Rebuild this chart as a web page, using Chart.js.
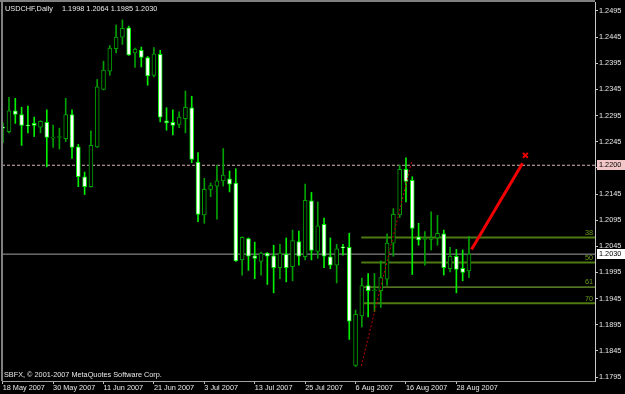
<!DOCTYPE html>
<html lang="en">
<head>
<meta charset="UTF-8">
<title>USDCHF,Daily</title>
<script src="https://cdn.jsdelivr.net/npm/chart.js@4.4.0/dist/chart.umd.min.js"></script>
<style>
    html, body { margin: 0; padding: 0; background: #000; }
    #chart { display: block; }
</style>
</head>
<body>
<canvas id="chart" width="625" height="394"></canvas>
<script>
// daily bars, index 0 = 18 May 2007
const opens  = [1.2273,1.2264,1.2304,1.2297,1.2277,1.2280,1.2273,1.2282,1.2252,1.2253,
                1.2251,1.2297,1.2235,1.2178,1.2159,1.2235,1.2345,1.2380,1.2423,1.2445,
                1.2463,1.2415,1.2420,1.2406,1.2372,1.2412,1.2285,1.2282,1.2278,1.2289,
                1.2310,1.2206,1.2105,1.2154,1.2160,1.2170,1.2174,1.2166,1.2019,1.2060,
                1.2027,1.2016,1.2032,1.2027,1.2004,1.2030,1.2006,1.2054,1.2025,1.2132,
                1.2035,1.2087,1.2025,1.2009,1.2043,1.2043,1.1817,1.1912,1.1970,1.1960,
                1.1960,1.1982,1.2051,1.2105,1.2192,1.2171,1.2063,1.2058,1.2058,1.2061,
                1.2069,1.2002,1.2026,1.2003,1.1998];
const highs  = [1.2281,1.2330,1.2328,1.2311,1.2313,1.2292,1.2285,1.2306,1.2277,1.2271,
                1.2328,1.2306,1.2240,1.2187,1.2266,1.2364,1.2399,1.2429,1.2468,1.2478,
                1.2466,1.2424,1.2426,1.2408,1.2425,1.2420,1.2310,1.2306,1.2302,1.2342,
                1.2332,1.2224,1.2175,1.2166,1.2200,1.2232,1.2189,1.2193,1.2063,1.2061,
                1.2053,1.2034,1.2033,1.2047,1.2049,1.2061,1.2076,1.2074,1.2164,1.2148,
                1.2130,1.2099,1.2061,1.2049,1.2049,1.2070,1.1923,1.1984,1.1993,1.1993,
                1.2017,1.2069,1.2117,1.2200,1.2214,1.2178,1.2089,1.2073,1.2111,1.2104,
                1.2076,1.2043,1.2039,1.2038,1.2064];
const lows   = [1.2243,1.2262,1.2280,1.2238,1.2262,1.2255,1.2262,1.2197,1.2234,1.2231,
                1.2245,1.2213,1.2159,1.2144,1.2158,1.2234,1.2344,1.2372,1.2415,1.2431,
                1.2410,1.2387,1.2388,1.2353,1.2369,1.2283,1.2267,1.2258,1.2272,1.2262,
                1.2205,1.2092,1.2089,1.2140,1.2097,1.2160,1.2149,1.2016,1.1990,1.1999,
                1.1983,1.1990,1.1972,1.1956,1.1983,1.1977,1.1979,1.2009,1.2019,1.2019,
                1.2022,1.2004,1.2002,1.1975,1.2028,1.1867,1.1815,1.1891,1.1910,1.1920,
                1.1928,1.1970,1.2026,1.2100,1.2130,1.1991,1.2047,1.2009,1.2038,1.2047,
                1.1990,1.1996,1.1956,1.1979,1.1985];
const closes = [1.2271,1.2304,1.2297,1.2276,1.2275,1.2276,1.2284,1.2253,1.2253,1.2254,
                1.2297,1.2234,1.2178,1.2159,1.2238,1.2350,1.2382,1.2424,1.2445,1.2462,
                1.2411,1.2422,1.2406,1.2371,1.2413,1.2292,1.2281,1.2276,1.2292,1.2311,
                1.2211,1.2106,1.2154,1.2161,1.2170,1.2181,1.2164,1.2017,1.2062,1.2026,
                1.2022,1.2032,1.2026,1.2004,1.2032,1.2004,1.2056,1.2026,1.2133,1.2037,
                1.2084,1.2026,1.2009,1.2040,1.2042,1.1902,1.1915,1.1970,1.1960,1.1961,
                1.1985,1.2051,1.2106,1.2192,1.2169,1.2079,1.2057,1.2059,1.2061,1.2070,
                1.2004,1.2026,1.2001,1.1995,1.2030];

const dateTicks  = [0, 8, 16, 24, 32, 40, 48, 56, 64, 72];
const dateLabels = ['18 May 2007', '30 May 2007', '11 Jun 2007', '21 Jun 2007', '3 Jul 2007',
                    '13 Jul 2007', '25 Jul 2007', '6 Aug 2007', '16 Aug 2007', '28 Aug 2007'];
const priceTicks = [1.1795, 1.1845, 1.1895, 1.1945, 1.1995, 1.2045, 1.2095, 1.2145,
                    1.2195, 1.2245, 1.2295, 1.2345, 1.2395, 1.2445, 1.2495];

// objects drawn on the chart
const fibLevels = [1.2062, 1.2014, 1.1967, 1.1936];
const fibNames  = ['38', '50', '61', '70'];
const fibStart  = 56.9;
const targetLevel = 1.2200;
const bidLevel    = 1.2030;
const dottedTrend = [{x: 56.9, y: 1.1816}, {x: 64.9, y: 1.2207}];
const redArrow    = [{x: 74.4, y: 1.2039}, {x: 82.5, y: 1.2204}];
const redMark     = [{x: 82.95, y: 1.2219}];

const symbolName = 'USDCHF,Daily';
const copyright  = 'SBFX, \u00a9 2001-2007 MetaQuotes Software Corp.';

const xMin = -0.11, xMax = 94.0;
const yMin = 1.17874, yMax = 1.25122;

const FONT = '"Liberation Sans", Arial, sans-serif';
const bullEdge = '#00a000';
const bearEdge = '#00f000';

const last = opens.length - 1;
const bull = i => closes[i] >= opens[i];

function hline(level, x0, color, width, dash) {
    return {
        type: 'line',
        data: [{x: x0, y: level}, {x: xMax, y: level}],
        borderColor: color, borderWidth: width, borderDash: dash || [],
        pointRadius: 0, order: 5
    };
}

const datasets = [
    {   // candle bodies
        type: 'bar',
        data: opens.map((o, i) => ({x: i, y: [o, closes[i]]})),
        backgroundColor: opens.map((o, i) => bull(i) ? '#000000' : '#ffffff'),
        borderColor: opens.map((o, i) => bull(i) ? bullEdge : bearEdge),
        borderWidth: 1, borderSkipped: false, barThickness: 4, minBarLength: 1,
        grouped: false, order: 1
    },
    {   // wicks
        type: 'bar',
        data: opens.map((o, i) => ({x: i, y: [lows[i], highs[i]]})),
        backgroundColor: opens.map((o, i) => bull(i) ? bullEdge : bearEdge),
        borderWidth: 0, barThickness: 1, grouped: false, order: 2
    },
    hline(targetLevel, xMin, '#d8b4b4', 1, [3, 2]),
    hline(bidLevel, xMin, '#a0a0a0', 1),
    ...fibLevels.map((lv, k) => k === 2
        ? hline(lv, fibStart, '#8cc63c', 1)
        : hline(lv, fibStart, '#4f7a12', 2)),
    {
        type: 'line', data: dottedTrend, borderColor: '#c00000', borderWidth: 1,
        borderDash: [2, 2], pointRadius: 0, order: 0
    },
    {
        type: 'line', data: redArrow, borderColor: '#f00000', borderWidth: 3,
        pointRadius: 0, order: 0
    },
    {
        type: 'line', data: redMark, showLine: false, pointStyle: 'crossRot',
        pointRadius: 3.5, borderWidth: 2, borderColor: '#f00000', order: 0
    }
];

const overlay = {
    id: 'overlay',
    beforeDraw(chart) {
        const c = chart.ctx;
        c.save();
        c.fillStyle = '#000';
        c.fillRect(0, 0, chart.width, chart.height);
        c.restore();
    },
    afterDraw(chart) {
        const c = chart.ctx, a = chart.chartArea, ys = chart.scales.y;
        c.save();
        c.fillStyle = '#808080';
        c.fillRect(0, 0, a.right, 2);
        c.fillRect(1, 0, 2, a.bottom);

        c.font = '7.3px ' + FONT;
        c.textBaseline = 'middle';
        c.fillStyle = '#e8e8e8';
        c.fillText(symbolName, 5, 8.5);
        c.fillText([opens[last], highs[last], lows[last], closes[last]].map(v => v.toFixed(4)).join(' '), 62, 8.5);
        c.fillText(copyright, 4, 374.5);

        // fibo level names
        c.textAlign = 'right';
        c.textBaseline = 'bottom';
        c.fillStyle = '#6c9c1c';
        fibLevels.forEach((lv, k) => {
            c.fillText(fibNames[k], a.right - 2, ys.getPixelForValue(lv) - 1);
        });

        // price labels on the axis
        c.textAlign = 'left';
        c.textBaseline = 'middle';
        [[targetLevel, '#f2c6c6'], [bidLevel, '#ffffff']].forEach(([v, bg]) => {
            const y = Math.round(ys.getPixelForValue(v));
            c.fillStyle = bg;
            c.fillRect(a.right + 2, y - 5, chart.width - a.right - 2, 10);
            c.fillStyle = '#000';
            c.fillText(v.toFixed(4), a.right + 4, y);
        });
        c.restore();
    }
};

new Chart(document.getElementById('chart'), {
    type: 'bar',
    data: { datasets: datasets },
    plugins: [overlay],
    options: {
        responsive: false,
        devicePixelRatio: 1,
        animation: false,
        events: [],
        layout: { autoPadding: false, padding: { left: 2, top: 2, right: 0, bottom: 0 } },
        plugins: { legend: { display: false }, tooltip: { enabled: false } },
        scales: {
            x: {
                type: 'linear', min: xMin, max: xMax, offset: false,
                afterBuildTicks: s => { s.ticks = dateTicks.map(v => ({value: v})); },
                afterFit: s => { s.height = 13; s.paddingLeft = 0; s.paddingRight = 0; },
                grid: { drawOnChartArea: false, offset: false, tickLength: 3, color: '#c0c0c0' },
                border: { color: '#a0a0a0' },
                ticks: {
                    align: 'start', autoSkip: false, maxRotation: 0, padding: 0,
                    color: '#e8e8e8', font: { family: FONT, size: 7.3 },
                    callback: v => dateLabels[dateTicks.indexOf(v)]
                }
            },
            y: {
                position: 'right', min: yMin, max: yMax,
                afterBuildTicks: s => { s.ticks = priceTicks.map(v => ({value: v})); },
                afterFit: s => { s.width = 30; s.paddingTop = 0; s.paddingBottom = 0; },
                grid: { drawOnChartArea: false, tickLength: 3, color: '#c8c8c8' },
                border: { color: '#c8c8c8' },
                ticks: {
                    padding: 1, color: '#e8e8e8', font: { family: FONT, size: 7.3 },
                    callback: v => v.toFixed(4)
                }
            }
        }
    }
});
</script>
</body>
</html>
